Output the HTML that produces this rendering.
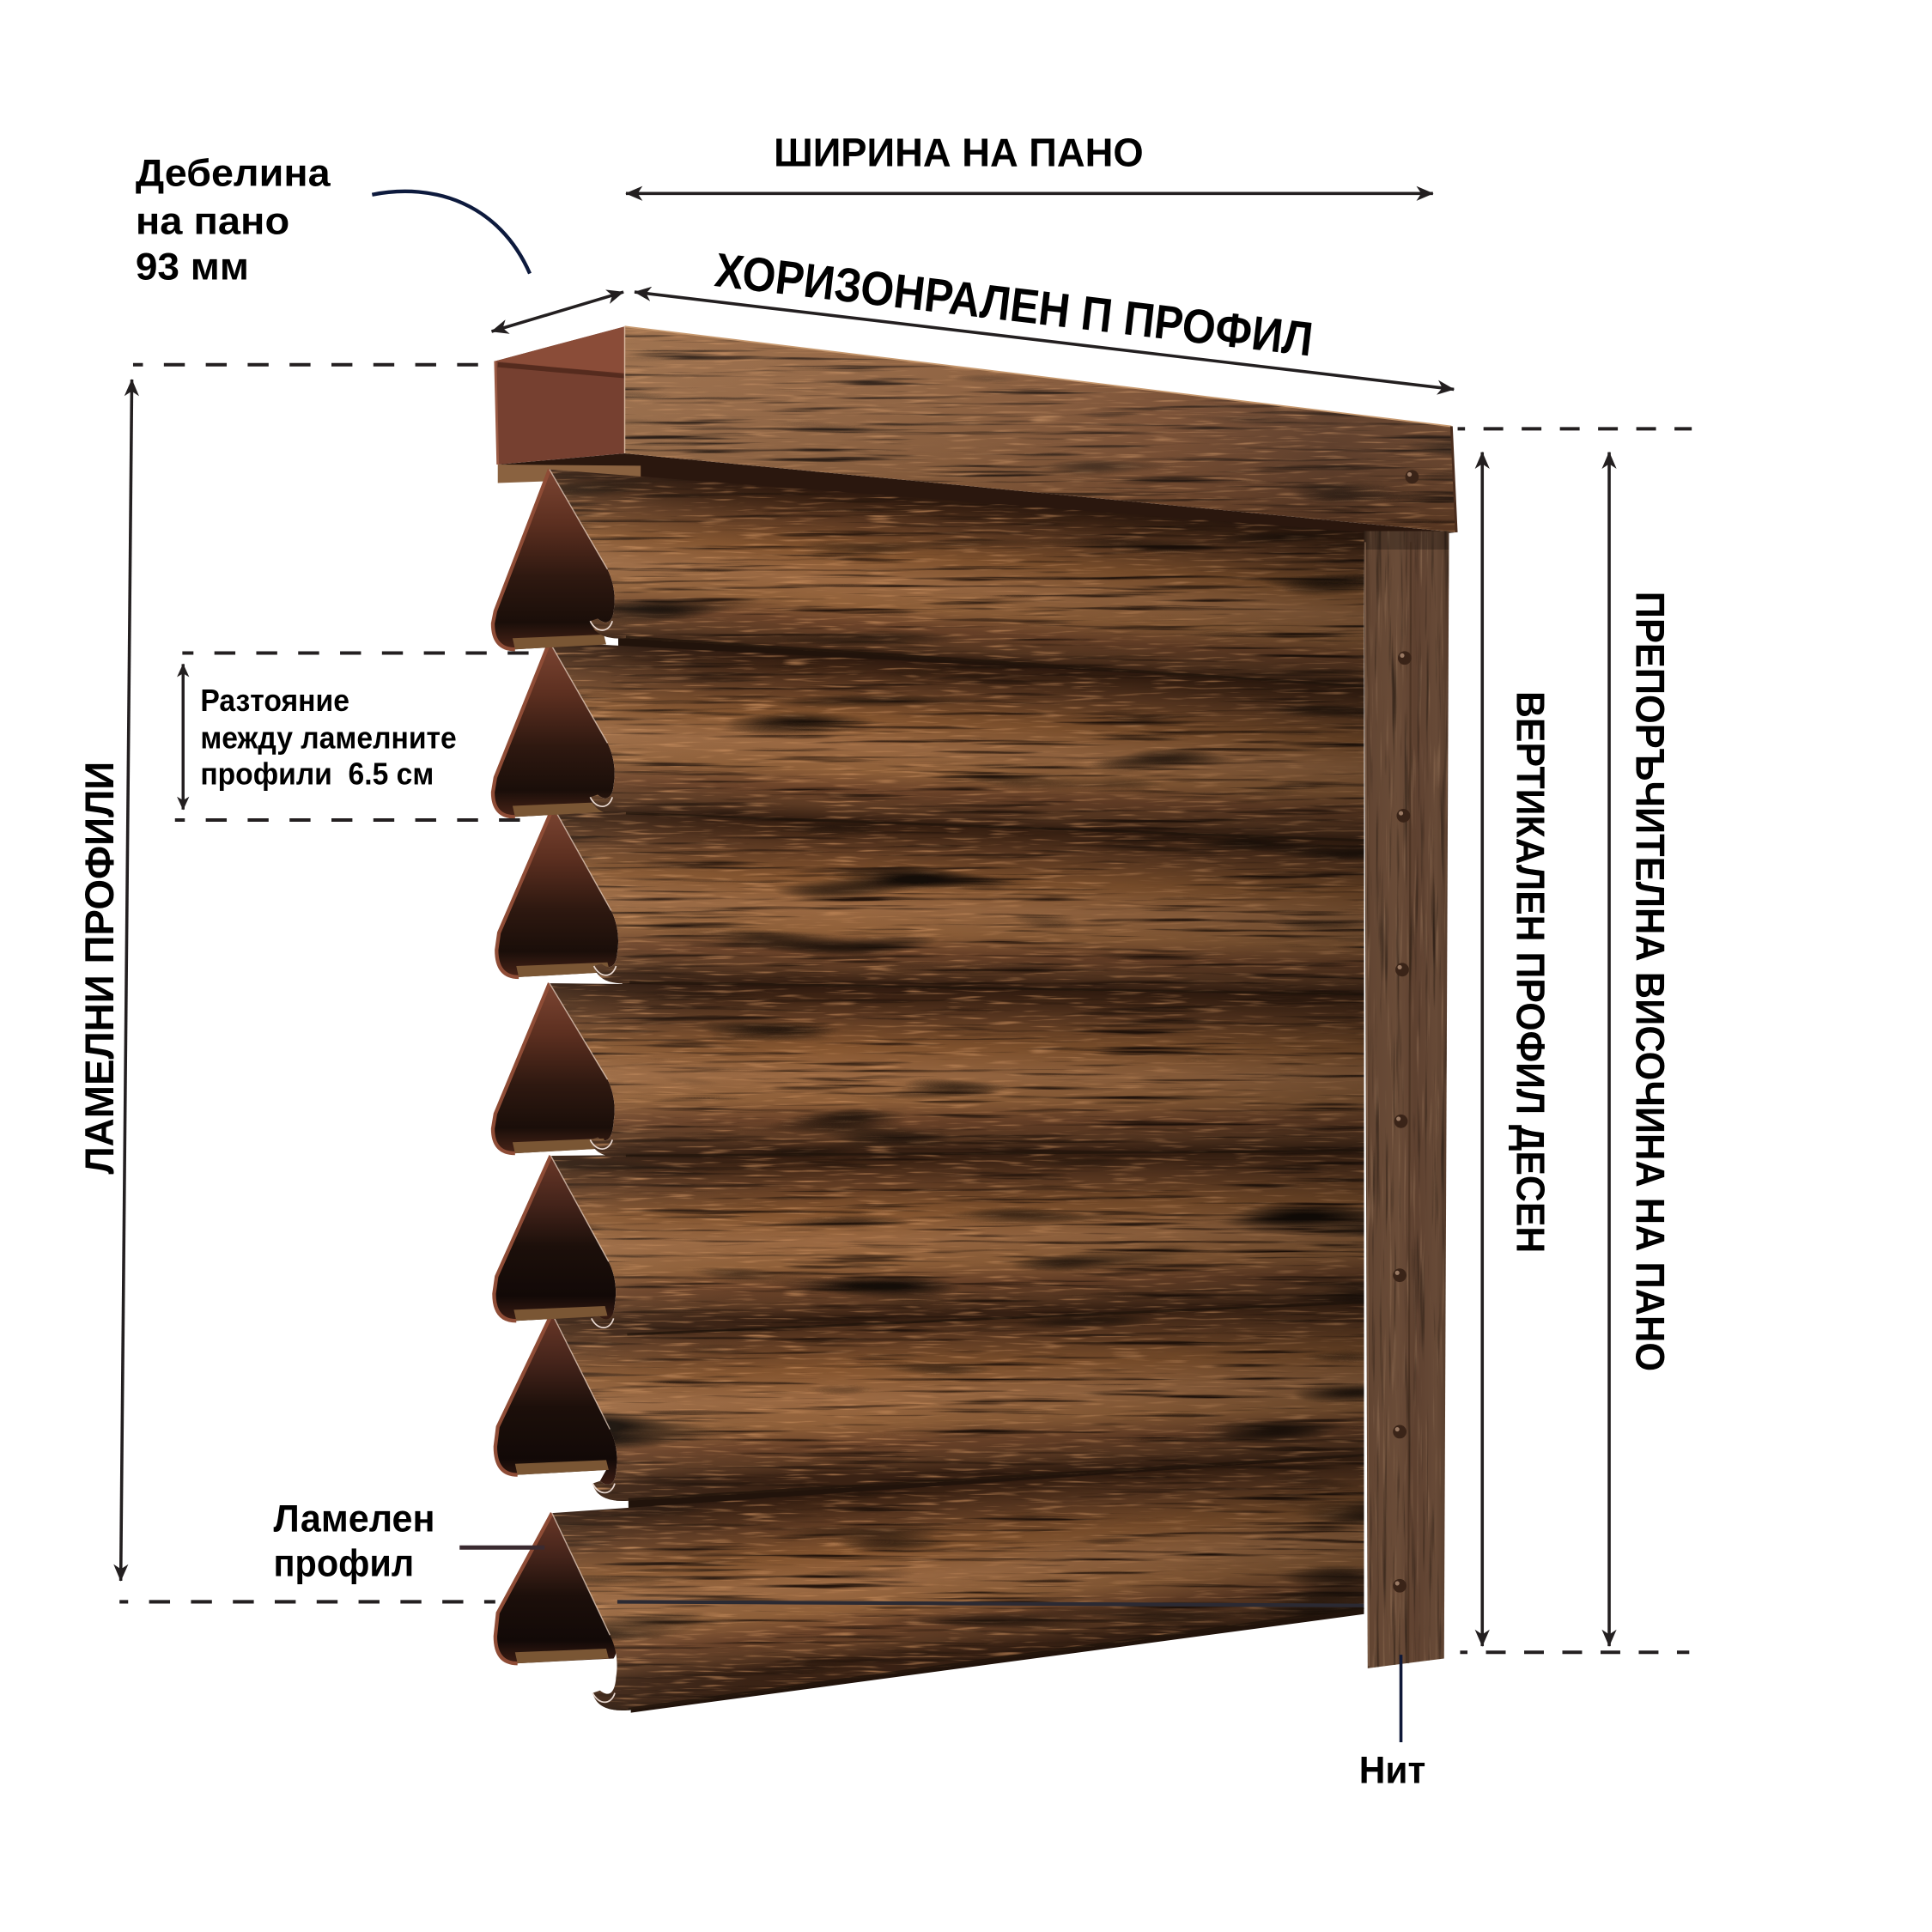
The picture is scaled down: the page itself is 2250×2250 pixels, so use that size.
<!DOCTYPE html>
<html><head><meta charset="utf-8"><style>html,body{margin:0;padding:0;background:#fff;}svg{display:block}
text{font-family:"Liberation Sans","DejaVu Sans",Arial,sans-serif;font-weight:700;fill:#000;}</style></head>
<body>
<svg xmlns="http://www.w3.org/2000/svg" width="2250" height="2250" viewBox="0 0 1568 1568">
<defs>
  <marker id="ah" viewBox="0 0 14 12" refX="13.5" refY="6" markerWidth="14" markerHeight="12" markerUnits="userSpaceOnUse" orient="auto-start-reverse">
    <path d="M0,0 L14,6 L0,12 L4,6 Z" fill="#231f20"/>
  </marker>
  <marker id="ahs" viewBox="0 0 11 10" refX="10.5" refY="5" markerWidth="11" markerHeight="10" markerUnits="userSpaceOnUse" orient="auto-start-reverse">
    <path d="M0,0 L11,5 L0,10 L3,5 Z" fill="#231f20"/>
  </marker>

  <linearGradient id="ss">
    <stop offset="0" stop-color="#2c180e"/>
    <stop offset="0.08" stop-color="#3e2414"/>
    <stop offset="0.2" stop-color="#5e3a22"/>
    <stop offset="0.38" stop-color="#85552f"/>
    <stop offset="0.55" stop-color="#9c6a43"/>
    <stop offset="0.7" stop-color="#906039"/>
    <stop offset="0.82" stop-color="#6c4329"/>
    <stop offset="0.92" stop-color="#5c3a23"/>
    <stop offset="1" stop-color="#3a2214"/>
  </linearGradient>
  <linearGradient id="g1" href="#ss" gradientUnits="userSpaceOnUse" x1="0" y1="349.3" x2="0" y2="480.8" gradientTransform="matrix(1 0.071 0 1 0 0)"/>
  <linearGradient id="g2" href="#ss" gradientUnits="userSpaceOnUse" x1="0" y1="501.4" x2="0" y2="634.9" gradientTransform="matrix(1 0.044 0 1 0 0)"/>
  <linearGradient id="g3" href="#ss" gradientUnits="userSpaceOnUse" x1="0" y1="642.9" x2="0" y2="778.4" gradientTransform="matrix(1 0.027 0 1 0 0)"/>
  <linearGradient id="g4" href="#ss" gradientUnits="userSpaceOnUse" x1="0" y1="797.1" x2="0" y2="932.6" gradientTransform="matrix(1 0.002 0 1 0 0)"/>
  <linearGradient id="g5" href="#ss" gradientUnits="userSpaceOnUse" x1="0" y1="948.7" x2="0" y2="1084.7" gradientTransform="matrix(1 -0.024 0 1 0 0)"/>
  <linearGradient id="g6" href="#ss" gradientUnits="userSpaceOnUse" x1="0" y1="1080.3" x2="0" y2="1219.8" gradientTransform="matrix(1 -0.032 0 1 0 0)"/>
  <linearGradient id="g7" href="#ss" gradientUnits="userSpaceOnUse" x1="0" y1="1268.3" x2="0" y2="1410.3" gradientTransform="matrix(1 -0.09 0 1 0 0)"/>

  <linearGradient id="hs" x1="0" y1="0" x2="1" y2="0">
    <stop offset="0" stop-color="#ffe0c0" stop-opacity="0.1"/>
    <stop offset="0.35" stop-color="#000" stop-opacity="0"/>
    <stop offset="0.75" stop-color="#000" stop-opacity="0.14"/>
    <stop offset="1" stop-color="#000" stop-opacity="0.3"/>
  </linearGradient>
  <linearGradient id="endG" x1="0" y1="0" x2="0" y2="1">
    <stop offset="0" stop-color="#7c4532"/>
    <stop offset="0.3" stop-color="#5c2f20"/>
    <stop offset="0.6" stop-color="#2e1810"/>
    <stop offset="0.85" stop-color="#1a0e09"/>
    <stop offset="1" stop-color="#4a2418"/>
  </linearGradient>
  <linearGradient id="endG2" x1="0" y1="0" x2="0" y2="1">
    <stop offset="0" stop-color="#6a3828"/>
    <stop offset="0.3" stop-color="#43231a"/>
    <stop offset="0.55" stop-color="#1c0f0a"/>
    <stop offset="0.85" stop-color="#120907"/>
    <stop offset="1" stop-color="#3c1d14"/>
  </linearGradient>
  <linearGradient id="railG" x1="0" y1="0" x2="1" y2="0">
    <stop offset="0" stop-color="#9a6a44"/>
    <stop offset="0.4" stop-color="#8c5c38"/>
    <stop offset="0.65" stop-color="#7a4c2e"/>
    <stop offset="0.85" stop-color="#5e3a24"/>
    <stop offset="1" stop-color="#6a4228"/>
  </linearGradient>
  <linearGradient id="railV" x1="0" y1="0" x2="0" y2="1">
    <stop offset="0" stop-color="#fff" stop-opacity="0.06"/>
    <stop offset="1" stop-color="#000" stop-opacity="0.18"/>
  </linearGradient>
  <linearGradient id="vertG" x1="0" y1="0" x2="1" y2="0">
    <stop offset="0" stop-color="#4a3223"/>
    <stop offset="0.08" stop-color="#634633"/>
    <stop offset="0.4" stop-color="#6a4c38"/>
    <stop offset="0.6" stop-color="#5e4130"/>
    <stop offset="0.85" stop-color="#674a37"/>
    <stop offset="1" stop-color="#543a2a"/>
  </linearGradient>

  <filter id="grainH" x="-5%" y="-5%" width="110%" height="110%" color-interpolation-filters="sRGB">
    <feTurbulence type="fractalNoise" baseFrequency="0.008 0.28" numOctaves="3" seed="3" result="t1"/>
    <feColorMatrix in="t1" type="matrix" values="0 0 0 0 0.14  0 0 0 0 0.08  0 0 0 0 0.045  3.6 0 0 0 -2.0" result="dk"/>
    <feTurbulence type="fractalNoise" baseFrequency="0.03 0.5" numOctaves="2" seed="9" result="t2"/>
    <feColorMatrix in="t2" type="matrix" values="0 0 0 0 0.78  0 0 0 0 0.55  0 0 0 0 0.36  2.6 0 0 0 -1.45" result="lt"/>
    <feTurbulence type="fractalNoise" baseFrequency="0.005 0.04" numOctaves="2" seed="21" result="t3"/>
    <feColorMatrix in="t3" type="matrix" values="0 0 0 0 0.08  0 0 0 0 0.05  0 0 0 0 0.03  5 0 0 0 -3.15" result="bl"/>
    <feMerge result="m"><feMergeNode in="lt"/><feMergeNode in="dk"/><feMergeNode in="bl"/></feMerge>
    <feComposite in="m" in2="SourceAlpha" operator="in"/>
  </filter>
  <filter id="grainV" x="-5%" y="-5%" width="110%" height="110%" color-interpolation-filters="sRGB">
    <feTurbulence type="fractalNoise" baseFrequency="0.3 0.01" numOctaves="3" seed="5" result="t1"/>
    <feColorMatrix in="t1" type="matrix" values="0 0 0 0 0.2  0 0 0 0 0.14  0 0 0 0 0.1  3 0 0 0 -1.7" result="dk"/>
    <feTurbulence type="fractalNoise" baseFrequency="0.4 0.015" numOctaves="2" seed="13" result="t2"/>
    <feColorMatrix in="t2" type="matrix" values="0 0 0 0 0.55  0 0 0 0 0.42  0 0 0 0 0.32  2.5 0 0 0 -1.45" result="lt"/>
    <feMerge result="m"><feMergeNode in="lt"/><feMergeNode in="dk"/></feMerge>
    <feComposite in="m" in2="SourceAlpha" operator="in"/>
  </filter>

  <path id="w1" d="M446,381 L1107,432 L1107,558 L508,518 C494,519 482,516 479,504 L485,502 C491,507 497,506 498,496 C500,484 498,472 493,462 Z"/>
  <path id="w2" d="M446,521 L1107,556 L1107,683 L508,661 C494,662 482,659 479,647 L485,645 C491,650 497,649 498,637 C500,625 498,613 493,603 Z"/>
  <path id="w3" d="M449,655 L1107,680 L1107,808 L511,798 C497,799 485,796 482,784 L488,782 C494,787 500,786 501,773 C503,761 501,749 496,739 Z"/>
  <path id="w4" d="M446,798 L1107,805 L1107,935 L508,939 C494,940 482,937 479,925 L485,923 C491,928 497,927 498,910 C500,898 498,886 493,876 Z"/>
  <path id="w5" d="M447,938 L1107,932 L1107,1058 L509,1084 C495,1085 483,1082 480,1070 L486,1068 C492,1073 498,1072 499,1058 C501,1046 499,1034 494,1024 Z"/>
  <path id="w6" d="M448,1066 L1107,1055 L1107,1182 L510,1218 C496,1219 484,1216 481,1204 L487,1202 C493,1207 499,1206 500,1194 C502,1182 500,1170 495,1160 Z"/>
  <path id="w7" d="M448,1228 L1107,1182 L1107,1306 L510,1388 C496,1389 484,1386 481,1374 L487,1372 C493,1377 499,1376 500,1361 C502,1349 500,1337 495,1327 Z"/>
  <path id="rail" d="M507,265 L1178,346 L1182,432 L507,368 Z"/>
  <path id="vert" d="M1107,431 L1176,431 L1172,1346 L1110,1354 Z"/>
</defs>

<!-- backdrop & rail underside -->
<path d="M500,372 L1107,430 L1107,1310 L512,1390 Z" fill="#21130b"/>
<path d="M404,377 L507,368 L1182,432 L1107,440 L520,388 Z" fill="#2a170e"/>
<!-- open end of top rail -->
<path d="M402,293 L507,265 L507,368 L404,377 Z" fill="#764030"/>
<path d="M402,293 L507,265 L507,304 Z" fill="#8a4c38"/>
<path d="M404,296 L507,305" stroke="#3a1a10" stroke-width="4" stroke-opacity="0.55"/>
<path d="M402,293 L404,377" stroke="#9a5a44" stroke-width="2"/>
<path d="M404,377 L520,378 L520,388 L404,392 Z" fill="#8a6240"/>

<!-- slat 7 -->
<g>
  <path d="M448,1228 L404,1309 L402,1328 Q402,1350 420,1350 L498,1346 C502,1340 500,1335 495,1327 Z" fill="url(#endG2)"/>
  <path d="M418,1341 L492,1338 L494,1346 L420,1350 Z" fill="#7a5634"/>
  <path d="M448,1228 L404,1309 L402,1328 Q402,1350 420,1350" fill="none" stroke="#8e4c36" stroke-width="3"/>
  <use href="#w7" fill="url(#g7)"/>
  <use href="#w7" fill="#000" filter="url(#grainH)"/>
  <use href="#w7" fill="url(#hs)"/>
  <path d="M510,1387 L1107,1305" stroke="#1e120a" stroke-width="2" stroke-opacity="0.7"/>
  <path d="M481,1374 C486,1384 496,1384 499,1374" fill="none" stroke="#e8d8d0" stroke-width="1.2"/>
  <path d="M448,1228 L495,1327" stroke="#ead4c4" stroke-opacity="0.7" stroke-width="1"/>
</g>
<!-- slat 6 -->
<g>
  <path d="M448,1066 L404,1158 L402,1174 Q402,1197 420,1197 L492,1193 L487,1202 C493,1207 499,1206 500,1194 C502,1182 500,1170 495,1160 Z" fill="url(#endG2)"/>
  <path d="M418,1188 L492,1185 L494,1193 L420,1197 Z" fill="#7a5634"/>
  <path d="M448,1066 L404,1158 L402,1174 Q402,1197 420,1197" fill="none" stroke="#8e4c36" stroke-width="3"/>
  <use href="#w6" fill="url(#g6)"/>
  <use href="#w6" fill="#000" filter="url(#grainH)"/>
  <use href="#w6" fill="url(#hs)"/>
  <path d="M510,1217 L1107,1181" stroke="#1e120a" stroke-width="2" stroke-opacity="0.7"/>
  <path d="M481,1204 C486,1214 496,1214 499,1204" fill="none" stroke="#e8d8d0" stroke-width="1.2"/>
  <path d="M448,1066 L495,1160" stroke="#ead4c4" stroke-opacity="0.7" stroke-width="1"/>
</g>
<!-- slat 5 -->
<g>
  <path d="M447,938 L403,1036 L401,1050 Q401,1072 419,1072 L491,1068 L486,1068 C492,1073 498,1072 499,1058 C501,1046 499,1034 494,1024 Z" fill="url(#endG2)"/>
  <path d="M417,1063 L491,1060 L493,1068 L419,1072 Z" fill="#7a5634"/>
  <path d="M447,938 L403,1036 L401,1050 Q401,1072 419,1072" fill="none" stroke="#8e4c36" stroke-width="3"/>
  <use href="#w5" fill="url(#g5)"/>
  <use href="#w5" fill="#000" filter="url(#grainH)"/>
  <use href="#w5" fill="url(#hs)"/>
  <path d="M509,1083 L1107,1057" stroke="#1e120a" stroke-width="2" stroke-opacity="0.7"/>
  <path d="M480,1070 C485,1080 495,1080 498,1070" fill="none" stroke="#e8d8d0" stroke-width="1.2"/>
  <path d="M447,938 L494,1024" stroke="#ead4c4" stroke-opacity="0.7" stroke-width="1"/>
</g>
<!-- slat 4 -->
<g>
  <path d="M446,798 L402,904 L400,916 Q400,936 418,936 L490,932 L485,923 C491,928 497,927 498,910 C500,898 498,886 493,876 Z" fill="url(#endG)"/>
  <path d="M416,927 L490,924 L492,932 L418,936 Z" fill="#7a5634"/>
  <path d="M446,798 L402,904 L400,916 Q400,936 418,936" fill="none" stroke="#8e4c36" stroke-width="3"/>
  <use href="#w4" fill="url(#g4)"/>
  <use href="#w4" fill="#000" filter="url(#grainH)"/>
  <use href="#w4" fill="url(#hs)"/>
  <path d="M508,938 L1107,934" stroke="#1e120a" stroke-width="2" stroke-opacity="0.7"/>
  <path d="M479,925 C484,935 494,935 497,925" fill="none" stroke="#e8d8d0" stroke-width="1.2"/>
  <path d="M446,798 L493,876" stroke="#ead4c4" stroke-opacity="0.7" stroke-width="1"/>
</g>
<!-- slat 3 -->
<g>
  <path d="M449,655 L405,757 L403,771 Q403,793 421,793 L493,789 L488,782 C494,787 500,786 501,773 C503,761 501,749 496,739 Z" fill="url(#endG)"/>
  <path d="M419,784 L493,781 L495,789 L421,793 Z" fill="#7a5634"/>
  <path d="M449,655 L405,757 L403,771 Q403,793 421,793" fill="none" stroke="#8e4c36" stroke-width="3"/>
  <use href="#w3" fill="url(#g3)"/>
  <use href="#w3" fill="#000" filter="url(#grainH)"/>
  <use href="#w3" fill="url(#hs)"/>
  <path d="M511,797 L1107,807" stroke="#1e120a" stroke-width="2" stroke-opacity="0.7"/>
  <path d="M482,784 C487,794 497,794 500,784" fill="none" stroke="#e8d8d0" stroke-width="1.2"/>
  <path d="M449,655 L496,739" stroke="#ead4c4" stroke-opacity="0.7" stroke-width="1"/>
</g>
<!-- slat 2 -->
<g>
  <path d="M446,521 L402,631 L400,643 Q400,663 418,663 L490,659 L485,645 C491,650 497,649 498,637 C500,625 498,613 493,603 Z" fill="url(#endG)"/>
  <path d="M416,654 L490,651 L492,659 L418,663 Z" fill="#7a5634"/>
  <path d="M446,521 L402,631 L400,643 Q400,663 418,663" fill="none" stroke="#8e4c36" stroke-width="3"/>
  <use href="#w2" fill="url(#g2)"/>
  <use href="#w2" fill="#000" filter="url(#grainH)"/>
  <use href="#w2" fill="url(#hs)"/>
  <path d="M508,660 L1107,682" stroke="#1e120a" stroke-width="2" stroke-opacity="0.7"/>
  <path d="M479,647 C484,657 494,657 497,647" fill="none" stroke="#e8d8d0" stroke-width="1.2"/>
  <path d="M446,521 L493,603" stroke="#ead4c4" stroke-opacity="0.7" stroke-width="1"/>
</g>
<!-- slat 1 -->
<g>
  <path d="M446,381 L402,496 L400,506 Q400,527 418,527 L490,523 L485,502 C491,507 497,506 498,496 C500,484 498,472 493,462 Z" fill="url(#endG)"/>
  <path d="M416,518 L490,515 L492,523 L418,527 Z" fill="#7a5634"/>
  <path d="M446,381 L402,496 L400,506 Q400,527 418,527" fill="none" stroke="#8e4c36" stroke-width="3"/>
  <use href="#w1" fill="url(#g1)"/>
  <use href="#w1" fill="#000" filter="url(#grainH)"/>
  <use href="#w1" fill="url(#hs)"/>
  <path d="M508,517 L1107,557" stroke="#1e120a" stroke-width="2" stroke-opacity="0.7"/>
  <path d="M479,504 C484,514 494,514 497,504" fill="none" stroke="#e8d8d0" stroke-width="1.2"/>
  <path d="M446,381 L493,462" stroke="#ead4c4" stroke-opacity="0.7" stroke-width="1"/>
</g>

<!-- top rail front face -->
<use href="#rail" fill="url(#railG)"/>
<use href="#rail" fill="#000" filter="url(#grainH)"/>
<use href="#rail" fill="url(#railV)"/>
<path d="M507,265 L1178,346" stroke="#c89a70" stroke-width="1.2"/>
<path d="M507,265 L507,368" stroke="#d8b8a0" stroke-width="1"/>
<path d="M1178,346 L1182,432" stroke="#4a2c1c" stroke-width="2"/>

<!-- vertical profile -->
<use href="#vert" fill="url(#vertG)"/>
<use href="#vert" fill="#000" filter="url(#grainV)"/>
<path d="M1107,431 L1176,431 L1176,446 L1107,446 Z" fill="#000" fill-opacity="0.25"/>
<path d="M1145,440 L1143,1350" stroke="#3a2618" stroke-width="1.5" stroke-opacity="0.5"/>
<path d="M1108,440 L1111,1352" stroke="#8a6a52" stroke-width="1.2" stroke-opacity="0.7"/>

<!-- rivets -->
<g fill="#3a2418">
  <circle cx="1146" cy="387" r="5.5"/>
  <circle cx="1140" cy="534" r="5.5"/>
  <circle cx="1139" cy="662" r="5.5"/>
  <circle cx="1138" cy="787" r="5.5"/>
  <circle cx="1137" cy="910" r="5.5"/>
  <circle cx="1136" cy="1035" r="5.5"/>
  <circle cx="1136" cy="1162" r="5.5"/>
  <circle cx="1136" cy="1287" r="5.5"/>
</g>
<g fill="#9a7a64">
  <circle cx="1144" cy="385" r="1.8"/>
  <circle cx="1138" cy="532" r="1.8"/>
  <circle cx="1137" cy="660" r="1.8"/>
  <circle cx="1136" cy="785" r="1.8"/>
  <circle cx="1135" cy="908" r="1.8"/>
  <circle cx="1134" cy="1033" r="1.8"/>
  <circle cx="1134" cy="1160" r="1.8"/>
  <circle cx="1134" cy="1285" r="1.8"/>
</g>

<!-- dashed guide lines -->
<g stroke="#231f20" stroke-width="2.8" fill="none">
  <line x1="108" y1="296" x2="395" y2="296" stroke-dasharray="17 17" stroke-dashoffset="9"/>
  <line x1="148" y1="530" x2="440" y2="530" stroke-dasharray="17 17" stroke-dashoffset="8"/>
  <line x1="142" y1="665.5" x2="437" y2="665.5" stroke-dasharray="17 17" stroke-dashoffset="9"/>
  <line x1="97" y1="1300" x2="402" y2="1300" stroke-dasharray="17 17" stroke-dashoffset="10"/>
  <line x1="1183" y1="348" x2="1373" y2="348" stroke-dasharray="16 15" stroke-dashoffset="10"/>
  <line x1="1185" y1="1341" x2="1371" y2="1341" stroke-dasharray="16 15" stroke-dashoffset="10"/>
</g>
<line x1="501" y1="1300" x2="1107" y2="1303" stroke="#2b2a33" stroke-width="3"/>

<!-- arrows -->
<g stroke="#231f20" stroke-width="2.5" fill="none" marker-start="url(#ah)" marker-end="url(#ah)">
  <line x1="508" y1="157" x2="1163" y2="157"/>
  <line x1="399" y1="269" x2="506" y2="237"/>
  <line x1="515" y1="237" x2="1180" y2="316"/>
  <line x1="107" y1="308" x2="98" y2="1283"/>
  <line x1="1203" y1="367" x2="1203" y2="1336"/>
  <line x1="1306" y1="367" x2="1306" y2="1336"/>
</g>
<line x1="148.6" y1="539" x2="148.6" y2="657" stroke="#231f20" stroke-width="2.4" marker-start="url(#ahs)" marker-end="url(#ahs)"/>

<!-- leader lines -->
<path d="M302,158 C352,148 405,165 430,222" fill="none" stroke="#0d1a3d" stroke-width="3"/>
<line x1="373" y1="1256" x2="442" y2="1256" stroke="#3a2a30" stroke-width="3.5"/>
<line x1="1137" y1="1343" x2="1137" y2="1414" stroke="#0e1838" stroke-width="2.5"/>

<!-- text -->
<text x="628" y="135" font-size="32" textLength="300" lengthAdjust="spacingAndGlyphs">ШИРИНА НА ПАНО</text>
<text x="110" y="151" font-size="31" textLength="158" lengthAdjust="spacingAndGlyphs">Дебелина</text>
<text x="110" y="190" font-size="31" textLength="125" lengthAdjust="spacingAndGlyphs">на пано</text>
<text x="110" y="227" font-size="31" textLength="92" lengthAdjust="spacingAndGlyphs">93 мм</text>
<text transform="translate(579,232) rotate(6.7)" font-size="39" textLength="488" lengthAdjust="spacingAndGlyphs">ХОРИЗОНРАЛЕН П ПРОФИЛ</text>
<text x="162.6" y="577" font-size="25" textLength="121" lengthAdjust="spacingAndGlyphs">Разтояние</text>
<text x="162.6" y="607.4" font-size="25" textLength="208" lengthAdjust="spacingAndGlyphs">между ламелните</text>
<text x="162.6" y="636.5" font-size="25" textLength="189.5" lengthAdjust="spacingAndGlyphs" style="white-space:pre">профили  6.5 см</text>
<text transform="translate(92,953) rotate(-90)" font-size="33" textLength="335" lengthAdjust="spacingAndGlyphs">ЛАМЕЛНИ ПРОФИЛИ</text>
<text transform="translate(1231,561) rotate(90)" font-size="32" textLength="456" lengthAdjust="spacingAndGlyphs">ВЕРТИКАЛЕН ПРОФИЛ ДЕСЕН</text>
<text transform="translate(1328,480) rotate(90)" font-size="33" textLength="633" lengthAdjust="spacingAndGlyphs">ПРЕПОРЪЧИТЕЛНА ВИСОЧИНА НА ПАНО</text>
<text x="222" y="1243" font-size="31" textLength="131" lengthAdjust="spacingAndGlyphs">Ламелен</text>
<text x="222" y="1279" font-size="31" textLength="114" lengthAdjust="spacingAndGlyphs">профил</text>
<text x="1103" y="1447" font-size="31" textLength="54" lengthAdjust="spacingAndGlyphs">Нит</text>
</svg>
</body></html>
